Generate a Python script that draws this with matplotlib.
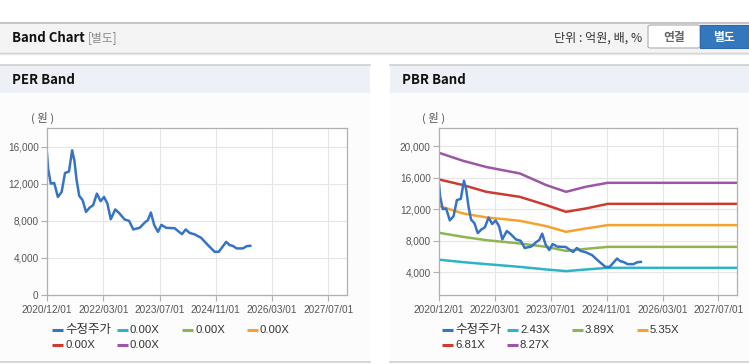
import matplotlib
matplotlib.use("Agg")
import matplotlib.pyplot as plt
from matplotlib.patches import Rectangle, FancyBboxPatch
from matplotlib.lines import Line2D
from matplotlib.ticker import FuncFormatter

plt.rcParams['font.family'] = ['Liberation Sans', 'Noto Sans CJK KR', 'DejaVu Sans']

# months counted from 2020/12/01
months = [0, 0.3, 1.0, 1.9, 2.2, 2.9, 3.9, 4.8, 5.85, 6.7, 7.3, 7.9, 8.6, 9.5, 10.4,
          11.4, 12.3, 13.3, 14.3, 15.2, 16.1, 17.0, 18.2, 19.2, 20.7, 21.9, 23.0,
          24.7, 26.1, 26.9, 27.7, 28.6, 29.6, 30.5, 31.8, 34.0, 36.0, 37.0, 38.0,
          39.4, 41.1, 42.9, 44.7, 45.8, 47.8, 48.7, 49.5, 50.6, 52.2, 53.3, 54.2]
price = [15200, 13600, 12000, 12080, 11650, 10570, 11100, 13150, 13300, 15600,
         14500, 12370, 10680, 10220, 8960, 9430, 9680, 10930, 10110, 10570, 9860,
         8170, 9220, 8850, 8140, 7990, 7070, 7240, 7820, 8070, 8890, 7530, 6810,
         7560, 7240, 7200, 6560, 7070, 6700, 6530, 6160, 5380, 4660, 4660, 5730,
         5380, 5300, 5020, 5020, 5270, 5300]

band_months = [0, 6.5, 12.7, 21.7, 28.8, 34.1, 39.5, 45.3, 80]
pbr_243 = [5580, 5270, 5020, 4670, 4340, 4130, 4340, 4550, 4550]
pbr_389 = [9000, 8480, 8060, 7640, 7210, 6700, 6960, 7210, 7210]
pbr_535 = [12400, 11450, 10950, 10520, 9840, 9120, 9550, 9970, 9970]
pbr_681 = [15770, 15050, 14200, 13560, 12510, 11660, 12090, 12670, 12670]
pbr_827 = [19150, 18130, 17350, 16530, 15050, 14200, 14850, 15340, 15340]

tick_months = [0, 15, 30, 45, 60, 75]
tick_labels = ["2020/12/01", "2022/03/01", "2023/07/01", "2024/11/01", "2026/03/01", "2027/07/01"]

per_labels = ["수정주가", "0.00X", "0.00X", "0.00X", "0.00X", "0.00X"]
pbr_labels = ["수정주가", "2.43X", "3.89X", "5.35X", "6.81X", "8.27X"]
colors = ["#3673c6", "#2db4c5", "#8db650", "#f4a42e", "#cc3a30", "#9a58a4"]

W, H = 749, 364
fig = plt.figure(figsize=(W / 100, H / 100), dpi=100)
fig.patch.set_facecolor("white")


def fx(x):
    return x / W


def fy(y):
    return 1 - y / H


def rect(x0, y0, x1, y1, fc, ec="none", lw=0):
    fig.add_artist(Rectangle((fx(x0), fy(y1)), fx(x1) - fx(x0), fy(y0) - fy(y1),
                             transform=fig.transFigure, facecolor=fc, edgecolor=ec,
                             linewidth=lw, zorder=0))


def hline(x0, x1, y, color, lw=1):
    fig.add_artist(Line2D([fx(x0), fx(x1)], [fy(y), fy(y)], transform=fig.transFigure,
                          color=color, linewidth=lw, zorder=1))


# top header bar
rect(0, 22, W, 53, "#f4f4f4")
hline(0, W, 22.5, "#bdbdbd", 1.2)
hline(0, W, 53, "#d0d0d0", 1.0)
hline(0, W, 54, "#e8e8e8", 1.0)
fig.text(fx(12), fy(38), "Band Chart", fontsize=9.5, fontweight="bold",
         family=["Noto Sans CJK KR"], va="center", ha="left", color="#111111")
fig.text(fx(88), fy(38), "[별도]", fontsize=8.5, family=["Noto Sans CJK KR"],
         va="center", ha="left", color="#8a8a8a")
fig.text(fx(642), fy(38), "단위 : 억원, 배, %", fontsize=8.7, family=["Noto Sans CJK KR"],
         va="center", ha="right", color="#333333")
fig.add_artist(FancyBboxPatch((fx(648), fy(48)), fx(52), 23 / H,
                              boxstyle="round,pad=0,rounding_size=0.004",
                              transform=fig.transFigure, facecolor="white",
                              edgecolor="#b5b5b5", linewidth=0.9))
fig.add_artist(Rectangle((fx(700), fy(48)), fx(49), 23 / H, transform=fig.transFigure,
                         facecolor="#3577bd", edgecolor="#2e6aab", linewidth=0.8))
fig.text(fx(674), fy(37), "연결", fontsize=8.5, fontweight="bold", family=["Noto Sans CJK KR"],
         va="center", ha="center", color="#666666")
fig.text(fx(724), fy(37), "별도", fontsize=8.5, fontweight="bold", family=["Noto Sans CJK KR"],
         va="center", ha="center", color="white")

# panels
for x0, x1, title in [(0, 370, "PER Band"), (390, W, "PBR Band")]:
    rect(x0, 65, x1, 93, "#edf1f7")
    rect(x0, 93, x1, 362, "#fcfcfc")
    hline(x0, x1, 65, "#cfcfcf", 1.2)
    hline(x0, x1, 362, "#cfcfcf", 1.2)
    fig.text(fx(x0 + 12), fy(80), title, fontsize=9.5, fontweight="bold",
             family=["Noto Sans CJK KR"], va="center", ha="left", color="#111111")


def style_axes(ax, ylim, yticks):
    ax.set_facecolor("white")
    ax.set_xlim(0, 80)
    ax.set_ylim(*ylim)
    ax.set_xticks(tick_months)
    ax.set_xticklabels(tick_labels)
    ax.set_yticks(yticks)
    ax.yaxis.set_major_formatter(FuncFormatter(lambda v, p: f"{int(v):,}"))
    ax.grid(True, color="#e6e6e6", linewidth=0.8)
    ax.set_axisbelow(True)
    for s in ax.spines.values():
        s.set_color("#b0b0b0")
        s.set_linewidth(0.9)
    ax.tick_params(axis="both", labelsize=7.2, colors="#b0b0b0", labelcolor="#555555",
                   length=4, width=0.8)
    ax.tick_params(axis="x", pad=3)
    ax.tick_params(axis="y", pad=2)


def legend(x_start, labels):
    for i, (lab, col) in enumerate(zip(labels, colors)):
        row, c = divmod(i, 4)
        x = x_start + c * 65
        y = 330 + row * 14.5
        fig.add_artist(Line2D([fx(x), fx(x + 11)], [fy(y), fy(y)], transform=fig.transFigure,
                              color=col, linewidth=2.2, solid_capstyle="butt"))
        size = 9 if lab == "수정주가" else 8.2
        fig.text(fx(x + 13), fy(y), lab, fontsize=size, va="center", ha="left", color="#333333")


# PER band
ax1 = fig.add_axes([fx(47), fy(295), fx(300), 167 / H])
style_axes(ax1, (0, 18000), [0, 4000, 8000, 12000, 16000])
ax1.plot(months, price, color=colors[0], linewidth=1.8)
fig.text(fx(31), fy(118), "( 원 )", fontsize=8.2, family=["Noto Sans CJK KR"],
         va="center", ha="left", color="#555555")
legend(52, per_labels)

# PBR band
ax2 = fig.add_axes([fx(439), fy(295), fx(298), 167 / H])
style_axes(ax2, (1100, 22300), [4000, 8000, 12000, 16000, 20000])
for vals, col in zip([pbr_243, pbr_389, pbr_535, pbr_681, pbr_827], colors[1:]):
    ax2.plot(band_months, vals, color=col, linewidth=1.8)
ax2.plot(months, price, color=colors[0], linewidth=1.8)
fig.text(fx(422), fy(118), "( 원 )", fontsize=8.2, family=["Noto Sans CJK KR"],
         va="center", ha="left", color="#555555")
legend(442, pbr_labels)

plt.savefig("out.png", dpi=100)
